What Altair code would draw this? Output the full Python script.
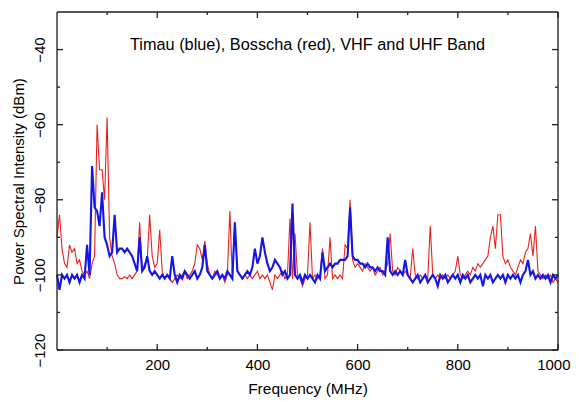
import altair as alt
import pandas as pd

freq = list(range(0, 1001, 5))

bosscha_red = [
    -90, -84, -93, -97, -98, -92, -94, -93, -97, -96,
    -99, -100, -99, -101, -97, -95, -60, -72, -72, -80,
    -58, -90, -95, -97, -100, -101, -101, -100.5, -101, -100,
    -101, -100, -99, -86, -99, -97, -96, -84, -95, -98,
    -97, -88, -99, -101, -100, -101, -102, -101, -100, -101,
    -100, -99, -101, -100, -99, -97, -92, -93, -96, -91,
    -97, -100, -101, -99, -100, -101, -100, -102, -100, -83,
    -101, -86, -99, -100, -101, -100, -101, -100, -101, -100,
    -99, -101, -100, -101, -100, -102, -104, -100, -101, -100,
    -99, -101, -100, -85, -101, -89, -100, -101, -103, -101,
    -100, -86, -101, -100, -101, -100, -93, -101, -100, -90,
    -101, -100, -101, -100, -101, -92, -93, -80, -96, -98,
    -97, -98, -99, -97, -98, -99, -98, -100, -99, -98,
    -100, -99, -97, -89, -99, -100, -98, -99, -100, -99,
    -100, -101, -93, -100, -101, -100, -101, -100, -101, -87,
    -100, -101, -100, -101, -100, -101, -100, -101, -100, -99,
    -95, -100, -101, -100, -99, -100, -98, -99, -97, -98,
    -97, -96, -95, -90, -87, -93, -84, -84, -95, -97,
    -96, -98, -99, -100, -98, -96, -97, -94, -93, -89,
    -95, -87, -99, -100, -101, -100, -101, -100, -102, -101,
    -102,
]

timau_blue = [
    -100, -104, -100, -101, -100, -102, -100, -101, -100, -102,
    -100, -101, -92, -100, -71, -82, -83, -87, -78, -90,
    -92, -95, -94, -84, -94, -93, -93, -94, -93, -94,
    -95, -97, -99, -90, -99, -98, -95, -99, -100, -99,
    -100, -101, -100, -101, -100, -101, -95, -100, -102, -100,
    -101, -99, -100, -101, -100, -99, -101, -100, -98, -92,
    -99, -100, -101, -100, -99, -101, -100, -101, -99, -100,
    -101, -86, -99, -100, -101, -100, -99, -100, -98, -93,
    -97, -95, -90, -94, -97, -99, -98, -96, -97, -98,
    -100, -99, -101, -100, -81, -100, -101, -100, -102, -100,
    -101, -100, -101, -102, -100, -101, -94, -99, -98, -97,
    -98, -97, -97, -96, -96, -96, -95, -82, -95, -96,
    -96, -97, -97, -98, -97, -98, -98, -99, -98, -99,
    -99, -100, -90, -99, -100, -99, -100, -99, -100, -96,
    -100, -101, -102, -101, -100, -102, -101, -100, -102, -101,
    -100, -101, -103, -100, -101, -100, -102, -101, -100, -101,
    -100, -102, -100, -101, -100, -102, -101, -100, -101, -100,
    -103, -100, -101, -100, -102, -101, -100, -101, -100, -102,
    -100, -101, -100, -101, -100, -102, -100, -99, -96, -100,
    -99, -101, -100, -101, -100, -101, -100, -102, -100, -101,
    -100,
]

x_labels = [200, 400, 600, 800, 1000]
y_labels = [-120, -100, -80, -60, -40]
x_minor = [100, 300, 500, 700, 900]
y_minor = [-110, -90, -70, -50]
title_text = "Timau (blue), Bosscha (red), VHF and UHF Band"

XMIN, XMAX = 0, 1000
YMIN, YMAX = -120, -30

red_df = pd.DataFrame({"f": freq, "p": bosscha_red})
blue_df = pd.DataFrame({"f": freq, "p": timau_blue})

xs = alt.Scale(domain=[XMIN, XMAX], nice=False, zero=False)
ys = alt.Scale(domain=[YMIN, YMAX], nice=False, zero=False)

FONT = "Liberation Sans"
xaxis = alt.Axis(values=x_labels, format="d", title="Frequency (MHz)", ticks=False, tickSize=0,
                 domain=False, grid=False, labelPadding=7, titlePadding=9,
                 labelFlush=True, labelFlushOffset=12, labelOverlap=False,
                 labelFontSize=15, titleFontSize=15.5, labelFont=FONT,
                 titleFont=FONT, titleFontWeight="normal",
                 labelColor="black", titleColor="black")
yaxis = alt.Axis(values=y_labels, title="Power Spectral Intensity (dBm)", ticks=False,
                 tickSize=0, domain=False, grid=False, labelAngle=270,
                 labelAlign="center", labelBaseline="bottom", labelPadding=10,
                 labelFlush=False, labelOverlap=False,
                 titlePadding=6, labelFontSize=15, titleFontSize=15,
                 labelFont=FONT, titleFont=FONT,
                 titleFontWeight="normal", labelColor="black", titleColor="black")

red = alt.Chart(red_df).mark_line(color="#e8231d", strokeWidth=1.1).encode(
    x=alt.X("f:Q", scale=xs, axis=xaxis),
    y=alt.Y("p:Q", scale=ys, axis=yaxis),
)
blue = alt.Chart(blue_df).mark_line(color="#1515e8", strokeWidth=2.1).encode(
    x=alt.X("f:Q", scale=xs),
    y=alt.Y("p:Q", scale=ys),
)

# frame and inward ticks on all four sides
dx_major, dx_minor = 12, 6
dy_major, dy_minor = 1.6, 0.8
tick_rows = [
    {"x": XMIN, "x2": XMAX, "y": YMIN, "y2": YMIN},
    {"x": XMIN, "x2": XMAX, "y": YMAX, "y2": YMAX},
    {"x": XMIN, "x2": XMIN, "y": YMIN, "y2": YMAX},
    {"x": XMAX, "x2": XMAX, "y": YMIN, "y2": YMAX},
]
for v in x_labels:
    tick_rows.append({"x": v, "x2": v, "y": YMIN, "y2": YMIN + dy_major})
    tick_rows.append({"x": v, "x2": v, "y": YMAX, "y2": YMAX - dy_major})
for v in x_minor:
    tick_rows.append({"x": v, "x2": v, "y": YMIN, "y2": YMIN + dy_minor})
    tick_rows.append({"x": v, "x2": v, "y": YMAX, "y2": YMAX - dy_minor})
for v in y_labels:
    tick_rows.append({"x": XMIN, "x2": XMIN + dx_major, "y": v, "y2": v})
    tick_rows.append({"x": XMAX, "x2": XMAX - dx_major, "y": v, "y2": v})
for v in y_minor:
    tick_rows.append({"x": XMIN, "x2": XMIN + dx_minor, "y": v, "y2": v})
    tick_rows.append({"x": XMAX, "x2": XMAX - dx_minor, "y": v, "y2": v})
ticks = alt.Chart(pd.DataFrame(tick_rows)).mark_rule(color="#222222", strokeWidth=1.3).encode(
    x=alt.X("x:Q", scale=xs), x2="x2:Q",
    y=alt.Y("y:Q", scale=ys), y2="y2:Q",
)

title = alt.Chart(pd.DataFrame({"x": [500], "y": [-38.7], "t": [title_text]})).mark_text(
    font=FONT, fontSize=16.3, color="black", align="center", baseline="middle"
).encode(x=alt.X("x:Q", scale=xs), y=alt.Y("y:Q", scale=ys), text="t:N")

chart = alt.layer(red, blue, ticks, title).properties(
    width=501, height=338,
    autosize=alt.AutoSizeParams(type="none"),
    padding={"left": 49, "top": 4, "right": 13, "bottom": 52},
).configure_view(stroke=None).configure(background="white")

chart.save("out.html", embed_options={"renderer": "svg", "actions": False})
